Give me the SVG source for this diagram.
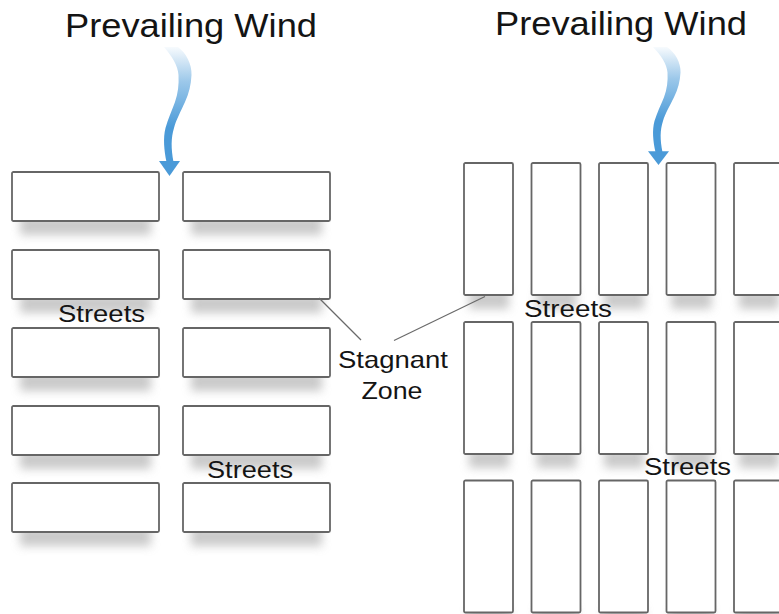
<svg xmlns="http://www.w3.org/2000/svg" width="779" height="614" viewBox="0 0 779 614">
  <defs>
    <filter id="soft" x="-30%" y="-100%" width="160%" height="300%">
      <feGaussianBlur stdDeviation="5"/>
    </filter>
    <linearGradient id="windL" gradientUnits="userSpaceOnUse" x1="0" y1="44" x2="0" y2="128">
      <stop offset="0" stop-color="#4a9ad8" stop-opacity="0"/>
      <stop offset="0.45" stop-color="#4a9ad8" stop-opacity="0.55"/>
      <stop offset="1" stop-color="#4a9ad8" stop-opacity="1"/>
    </linearGradient>
    <style>
      .blk { fill: #ffffff; stroke: #666666; stroke-width: 1.8; }
      .shd { fill: #b4b4b4; opacity: 0.7; filter: url(#soft); }
      .lbl { font-family: "Liberation Sans", Arial, sans-serif; fill: #141414; }
      .title { font-size: 34px; }
      .street { font-size: 24px; }
      .lead { stroke: #6a6a6a; stroke-width: 1.2; fill: none; }
      .wind { fill: url(#windL); stroke: none; }
      .head { fill: #4a9ad8; }
    </style>
    <!-- wide block used on the left layout -->
    <g id="wideBlock">
      <rect class="shd" x="8" y="44" width="131" height="19"/>
      <rect class="blk" x="0" y="0" width="147" height="49" rx="1.5"/>
    </g>
    <!-- tall block used on the right layout -->
    <g id="tallBlock">
      <rect class="shd" x="5" y="127" width="40" height="19"/>
      <rect class="blk" x="0" y="0" width="49" height="132" rx="1.5"/>
    </g>
    <!-- curved wind arrow: tapered body fading in from the top -->
    <g id="windArrow">
      <path class="wind" d="M178 47 C186 53 192 64 191.5 75 C191 85 189 93 185 102 C181 111 176 120 174 128 C171 138 171 148 173.5 162 L166.5 162 C164 150 163 138 165.5 128 C168 119 172 110 175 102 C178 93 179 85 178.5 75 C178 66 172 56 164 47 Z"/>
      <polygon class="head" points="159,161 180,161 169.5,176"/>
    </g>
  </defs>

  <!-- left layout: streets running across the wind -->
  <g id="left-title"><text class="lbl title" x="191" y="37" text-anchor="middle" textLength="252" lengthAdjust="spacingAndGlyphs">Prevailing Wind</text></g>
  <g id="L1a"><use href="#wideBlock" x="12" y="172"/></g>
  <g id="L1b"><use href="#wideBlock" x="183" y="172"/></g>
  <g id="L2a"><use href="#wideBlock" x="12" y="250"/></g>
  <g id="L2b"><use href="#wideBlock" x="183" y="250"/></g>
  <g id="L3a"><use href="#wideBlock" x="12" y="328"/></g>
  <g id="L3b"><use href="#wideBlock" x="183" y="328"/></g>
  <g id="L4a"><use href="#wideBlock" x="12" y="406"/></g>
  <g id="L4b"><use href="#wideBlock" x="183" y="406"/></g>
  <g id="L5a"><use href="#wideBlock" x="12" y="483"/></g>
  <g id="L5b"><use href="#wideBlock" x="183" y="483"/></g>
  <g id="left-street-1"><text class="lbl street" x="58" y="322" textLength="87" lengthAdjust="spacingAndGlyphs">Streets</text></g>
  <g id="left-street-2"><text class="lbl street" x="207" y="478" textLength="86" lengthAdjust="spacingAndGlyphs">Streets</text></g>

  <!-- right layout: streets running along the wind -->
  <g id="right-title"><text class="lbl title" x="621" y="35" text-anchor="middle" textLength="252" lengthAdjust="spacingAndGlyphs">Prevailing Wind</text></g>
  <g id="R1a"><use href="#tallBlock" x="464" y="163"/></g>
  <g id="R1b"><use href="#tallBlock" x="531.5" y="163"/></g>
  <g id="R1c"><use href="#tallBlock" x="599" y="163"/></g>
  <g id="R1d"><use href="#tallBlock" x="666.5" y="163"/></g>
  <g id="R1e"><use href="#tallBlock" x="734" y="163"/></g>
  <g id="R2a"><use href="#tallBlock" x="464" y="322"/></g>
  <g id="R2b"><use href="#tallBlock" x="531.5" y="322"/></g>
  <g id="R2c"><use href="#tallBlock" x="599" y="322"/></g>
  <g id="R2d"><use href="#tallBlock" x="666.5" y="322"/></g>
  <g id="R2e"><use href="#tallBlock" x="734" y="322"/></g>
  <g id="R3a"><use href="#tallBlock" x="464" y="480.5"/></g>
  <g id="R3b"><use href="#tallBlock" x="531.5" y="480.5"/></g>
  <g id="R3c"><use href="#tallBlock" x="599" y="480.5"/></g>
  <g id="R3d"><use href="#tallBlock" x="666.5" y="480.5"/></g>
  <g id="R3e"><use href="#tallBlock" x="734" y="480.5"/></g>
  <g id="right-street-1"><text class="lbl street" x="524" y="317" textLength="88" lengthAdjust="spacingAndGlyphs">Streets</text></g>
  <g id="right-street-2"><text class="lbl street" x="644" y="475" textLength="87" lengthAdjust="spacingAndGlyphs">Streets</text></g>

  <!-- callout label -->
  <g id="stagnant-zone">
    <text class="lbl street" x="393" y="368" text-anchor="middle" textLength="110" lengthAdjust="spacingAndGlyphs">Stagnant</text>
    <text class="lbl street" x="392" y="399" text-anchor="middle" textLength="61" lengthAdjust="spacingAndGlyphs">Zone</text>
  </g>

  <!-- wind arrows and callout leaders -->
  <g id="connectors">
    <use href="#windArrow"/>
    <use href="#windArrow" transform="translate(489 47) scale(1 0.915) translate(0 -47)"/>
    <line class="lead" x1="319" y1="298" x2="361" y2="340"/>
    <line class="lead" x1="485" y1="296.5" x2="394" y2="340.5"/>
  </g>
</svg>
